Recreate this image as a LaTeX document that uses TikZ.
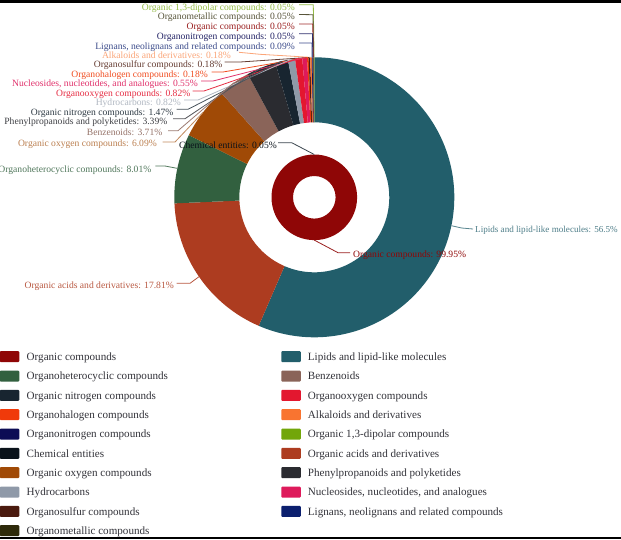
\documentclass[tikz,border=0pt]{standalone}
\usepackage{fontspec}
\setmainfont{Liberation Serif}
\definecolor{cLip}{HTML}{225E6B}
\definecolor{cAci}{HTML}{AD3C20}
\definecolor{cHet}{HTML}{32603F}
\definecolor{cOxy}{HTML}{A04A06}
\definecolor{cBen}{HTML}{8A6459}
\definecolor{cPhe}{HTML}{2A2B30}
\definecolor{cNit}{HTML}{182530}
\definecolor{cHyd}{HTML}{8F99A8}
\definecolor{cOox}{HTML}{E3172F}
\definecolor{cNuc}{HTML}{DE1A5B}
\definecolor{cHal}{HTML}{F03A0A}
\definecolor{cSul}{HTML}{4A1A0E}
\definecolor{cAlk}{HTML}{F97430}
\definecolor{cLig}{HTML}{0B1F6E}
\definecolor{cOni}{HTML}{0C0C55}
\definecolor{cOrg}{HTML}{8F0606}
\definecolor{cMet}{HTML}{2E2A0A}
\definecolor{cDip}{HTML}{72A60A}
\definecolor{cChe}{HTML}{0A121A}
\definecolor{cTxt}{HTML}{33333A}
\tikzset{
  lab/.style={inner ysep=0pt,inner xsep=2pt,font=\fontsize{9.6}{10}\selectfont,text height=9.4pt,text depth=2pt},
  conn/.style={line width=0.8pt},
  swatch/.style={rounded corners=1pt,minimum width=19.5pt,minimum height=11pt,inner sep=0pt},
  legtext/.style={inner sep=0pt,anchor=west,text=cTxt,font=\fontsize{11.1}{12}\selectfont,text height=9.6pt,text depth=2pt}
}
\newcommand{\rlab}[5]{\node[lab,anchor=east,text=#2] (#1) at (#3,#4) {#5};}
\begin{document}
\begin{tikzpicture}[x=1pt,y=-1pt]
\useasboundingbox (0,0) rectangle (621,539);
\fill[white] (0,0) rectangle (621,539);
\begin{scope}[shift={(314.3,197.3)},x=1pt,y=1pt]
  \foreach \nm/\col/\pa/\pb in {Lip/cLip/0/56.5,Aci/cAci/56.5/74.31,Het/cHet/74.31/82.32,Oxy/cOxy/82.32/88.41,Ben/cBen/88.41/92.12,Phe/cPhe/92.12/95.51,Nit/cNit/95.51/96.98,Hyd/cHyd/96.98/97.8,Oox/cOox/97.8/98.62,Nuc/cNuc/98.62/99.17,Hal/cHal/99.17/99.35,Sul/cSul/99.35/99.53,Alk/cAlk/99.53/99.71,Lig/cLig/99.71/99.8,Oni/cOni/99.8/99.85,Org/cOrg/99.85/99.9,Met/cMet/99.9/99.95,Dip/cDip/99.95/100}{
    \pgfmathsetmacro{\aa}{90-3.6*\pa}
    \pgfmathsetmacro{\ab}{90-3.6*\pb}
    \pgfmathsetmacro{\am}{(\aa+\ab)/2}
    \fill[\col] (\aa:140pt) arc[start angle=\aa,end angle=\ab,radius=140pt] -- (\ab:75pt) arc[start angle=\ab,end angle=\aa,radius=75pt] -- cycle;
    \coordinate (e\nm) at (\am:140pt);
  }
  \fill[cOrg,even odd rule] (0,0) circle[radius=42.8pt] (0,0) circle[radius=21.3pt];
  \coordinate (eChe) at (90:42.8pt);
  \coordinate (eRing) at (-90:42.8pt);
\end{scope}
% labels
\rlab{lDip}{cDip!75!white}{297}{6.7}{Organic 1,3-dipolar compounds: 0.05\%}
\rlab{lMet}{cMet!80!white}{297}{16}{Organometallic compounds: 0.05\%}
\rlab{lOrg}{cOrg!90!white}{297}{26}{Organic compounds: 0.05\%}
\rlab{lOni}{cOni!90!white}{297}{35.7}{Organonitrogen compounds: 0.05\%}
\rlab{lLig}{cLig!80!white}{297}{45.3}{Lignans, neolignans and related compounds: 0.09\%}
\rlab{lAlk}{cAlk!65!white}{233}{55}{Alkaloids and derivatives: 0.18\%}
\rlab{lSul}{cSul!85!white}{224.5}{64}{Organosulfur compounds: 0.18\%}
\rlab{lHal}{cHal!90!white}{210}{73.3}{Organohalogen compounds: 0.18\%}
\rlab{lNuc}{cNuc!90!white}{200}{83}{Nucleosides, nucleotides, and analogues: 0.55\%}
\rlab{lOox}{cOox!90!white}{192.5}{92.7}{Organooxygen compounds: 0.82\%}
\rlab{lHyd}{cHyd!70!white}{183}{102}{Hydrocarbons: 0.82\%}
\rlab{lNit}{cNit!90!white}{175.5}{111.7}{Organic nitrogen compounds: 1.47\%}
\rlab{lPhe}{cPhe!90!white}{169.5}{121}{Phenylpropanoids and polyketides: 3.39\%}
\rlab{lBen}{cBen!90!white}{164.5}{132}{Benzenoids: 3.71\%}
\rlab{lOxy}{cOxy!70!white}{159}{143}{Organic oxygen compounds: 6.09\%}
\rlab{lHet}{cHet!85!white}{153.5}{168.3}{Organoheterocyclic compounds: 8.01\%}
\rlab{lAci}{cAci!85!white}{176}{285}{Organic acids and derivatives: 17.81\%}
\rlab{lChe}{cChe}{279}{144.3}{Chemical entities: 0.05\%}
\node[lab,anchor=west,text=cOrg] (lRing) at (351,254) {Organic compounds: 99.95\%};
\node[lab,anchor=west,text=cLip!80!white,font=\fontsize{9.1}{10}\selectfont] (lLip) at (473,229) {Lipids and lipid-like molecules: 56.5\%};
% connectors
\draw[conn,cDip!75!white] ([shift={(2,-2)}]lDip.east) -- (313.3,4.7) -- (eDip);
\draw[conn,cMet!80!white] ([shift={(2,-1.5)}]lMet.east) -- (313,14.7) -- (eMet);
\draw[conn,cOrg!85!white] ([shift={(2,-2)}]lOrg.east) -- (312.8,24) -- (eOrg);
\draw[conn,cOni!85!white] ([shift={(2,-2)}]lOni.east) -- (312.5,33.7) -- (eOni);
\draw[conn,cLig!80!white] ([shift={(2,-2.3)}]lLig.east) -- (312,43) -- (eLig);
\draw[conn,cAlk!65!white] ([shift={(6,-2.7)}]lAlk.east) -- (260,54.3) -- (eAlk);
\draw[conn,cSul!85!white] ([shift={(0,-2)}]lSul.east) -- (240,62) -- (eSul);
\draw[conn,cHal!90!white] ([shift={(1.5,-1.3)}]lHal.east) -- (223,72) -- (eHal);
\draw[conn,cNuc!90!white] ([shift={(1,-2)}]lNuc.east) -- (213,81) -- (eNuc);
\draw[conn,cOox!90!white] ([shift={(0,-1.7)}]lOox.east) -- (204,91) -- (eOox);
\draw[conn,cHyd!70!white] ([shift={(1,-2)}]lHyd.east) -- (198,100) -- (eHyd);
\draw[conn,cNit!80!white] ([shift={(1,-2.4)}]lNit.east) -- (188,109.3) -- (eNit);
\draw[conn,cPhe!80!white] ([shift={(3.5,-2.3)}]lPhe.east) -- (185,118.7) -- (ePhe);
\draw[conn,cBen!85!white] ([shift={(3.5,-1.3)}]lBen.east) -- (178,130.7) -- (eBen);
\draw[conn,cOxy!65!white] ([shift={(3.7,-1)}]lOxy.east) -- (175,142) -- (eOxy);
\draw[conn,cHet!85!white] ([shift={(1.8,-2.3)}]lHet.east) -- (165,166) -- (eHet);
\draw[conn,cAci!85!white] ([shift={(0.7,-1.7)}]lAci.east) -- (190,283.3) -- (eAci);
\draw[conn,cNit!85!white] ([shift={(-1,-1.6)}]lChe.east) -- (291.7,142.7) -- (eChe);
\draw[conn,cOrg!90!white] ([shift={(-1,-1.3)}]lRing.west) -- (338,252.7) -- (eRing);
\draw[conn,cLip!75!white] (eLip) -- (461.7,228) -- (lLip.west);
% legend
\foreach \nm/\col/\ty/\txt in {
 a/cOrg/356.7/Organic compounds,
 b/cHet/376/Organoheterocyclic compounds,
 c/cNit/395.3/Organic nitrogen compounds,
 d/cHal/414.7/Organohalogen compounds,
 e/cOni/434/Organonitrogen compounds,
 f/cChe/453.3/Chemical entities,
 g/cOxy/472.7/Organic oxygen compounds,
 h/cHyd/492/Hydrocarbons,
 i/cSul/511.3/Organosulfur compounds,
 j/cMet/530.7/Organometallic compounds}{
  \node[swatch,fill=\col] (s\nm) at (9.5,\ty) {};
  \node[legtext] (t\nm) at (26.5,\ty) {\txt};
}
\foreach \nm/\col/\ty/\txt in {
 k/cLip/356.7/Lipids and lipid-like molecules,
 l/cBen/376/Benzenoids,
 m/cOox/395.3/Organooxygen compounds,
 n/cAlk/414.7/Alkaloids and derivatives,
 o/cDip/434/Organic 1{,}3-dipolar compounds,
 p/cAci/453.3/Organic acids and derivatives,
 q/cPhe/472.7/Phenylpropanoids and polyketides,
 r/cNuc/492/{Nucleosides, nucleotides, and analogues},
 s/cLig/511.3/{Lignans, neolignans and related compounds}}{
  \node[swatch,fill=\col] (s\nm) at (291,\ty) {};
  \node[legtext] (t\nm) at (307.7,\ty) {\txt};
}
\fill[black] (0,0) rectangle (621,3);
\fill[black] (0,536.8) rectangle (621,539);
\end{tikzpicture}
\end{document}
